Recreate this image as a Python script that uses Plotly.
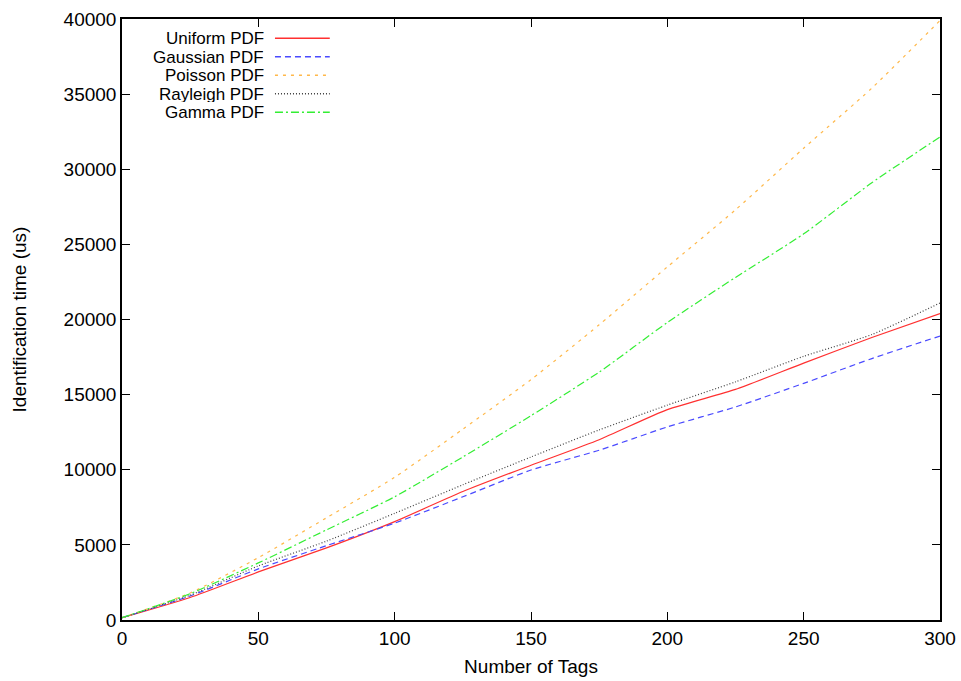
import plotly.graph_objects as go

# Number of tags sampled along the x axis
tags = [0, 25, 50, 75, 100, 125, 150, 175, 200, 225, 250, 275, 300]

# Identification time (us) for each tag-distribution model
uniform_pdf = [150, 1500, 3200, 4800, 6550, 8550, 10300, 12000, 14000, 15350, 17100, 18800, 20400]
gaussian_pdf = [150, 1600, 3400, 4950, 6450, 8200, 9980, 11300, 12850, 14180, 15750, 17400, 18900]
poisson_pdf = [150, 1800, 4150, 6800, 9500, 12700, 16000, 19650, 23500, 27300, 31400, 35400, 39900]
rayleigh_pdf = [150, 1650, 3600, 5250, 7100, 9000, 10850, 12650, 14300, 15850, 17550, 19000, 21100]
gamma_pdf = [150, 1750, 3800, 6000, 8200, 10850, 13600, 16500, 19800, 22800, 25700, 29100, 32150]

x_ticks = [0, 50, 100, 150, 200, 250, 300]
y_ticks = [0, 5000, 10000, 15000, 20000, 25000, 30000, 35000, 40000]
y_tick_text = [str(v) for v in y_ticks]

series = [
    ("Uniform PDF", uniform_pdf, "#ff3030", "solid"),
    ("Gaussian PDF", gaussian_pdf, "#4a4aff", "6px,4px"),
    ("Poisson PDF", poisson_pdf, "#ffb84a", "3px,5px"),
    ("Rayleigh PDF", rayleigh_pdf, "#404040", "1px,2px"),
    ("Gamma PDF", gamma_pdf, "#33ee33", "8px,3px,2px,3px"),
]

FONT = "Liberation Sans, Arial, sans-serif"

fig = go.Figure()
for name, vals, color, dash in series:
    fig.add_trace(go.Scatter(
        x=tags, y=vals, mode="lines", name=name,
        line=dict(color=color, width=1.2, dash=dash, shape="spline", smoothing=0.6),
        showlegend=False,
    ))

# Key in the upper-left corner: right-aligned labels followed by line samples
key_top = 0.968
key_step = 0.0308
for i, (name, vals, color, dash) in enumerate(series):
    yk = key_top - i * key_step
    fig.add_annotation(
        x=0.175, y=yk, xref="paper", yref="paper", text=name,
        showarrow=False, xanchor="right", yanchor="middle",
        height=16, valign="middle", borderpad=0,
        font=dict(family=FONT, size=17, color="#000000"),
    )
    fig.add_shape(
        type="line", xref="paper", yref="paper",
        x0=0.187, x1=0.254, y0=yk, y1=yk,
        line=dict(color=color, width=1.4, dash=dash),
    )

axis_common = dict(
    showline=True, linecolor="#000000", linewidth=1.5, mirror="ticks",
    ticks="inside", ticklen=8, tickwidth=1.3, tickcolor="#000000",
    showgrid=False, zeroline=False, automargin=False,
    tickfont=dict(family=FONT, size=19, color="#000000"),
)

fig.update_xaxes(
    range=[0, 300], tickvals=x_ticks,
    title=dict(text="Number of Tags", font=dict(family=FONT, size=19, color="#000000"), standoff=12),
    **axis_common,
)
fig.update_yaxes(
    range=[0, 40000], tickvals=y_ticks, ticktext=y_tick_text,
    title=dict(text="Identification time (us)", font=dict(family=FONT, size=19, color="#000000"), standoff=32),
    **axis_common,
)

fig.update_layout(
    width=961, height=681,
    margin=dict(l=122, r=21, t=19, b=61, autoexpand=False),
    paper_bgcolor="#ffffff", plot_bgcolor="#ffffff",
)

fig.write_html("out.html")
